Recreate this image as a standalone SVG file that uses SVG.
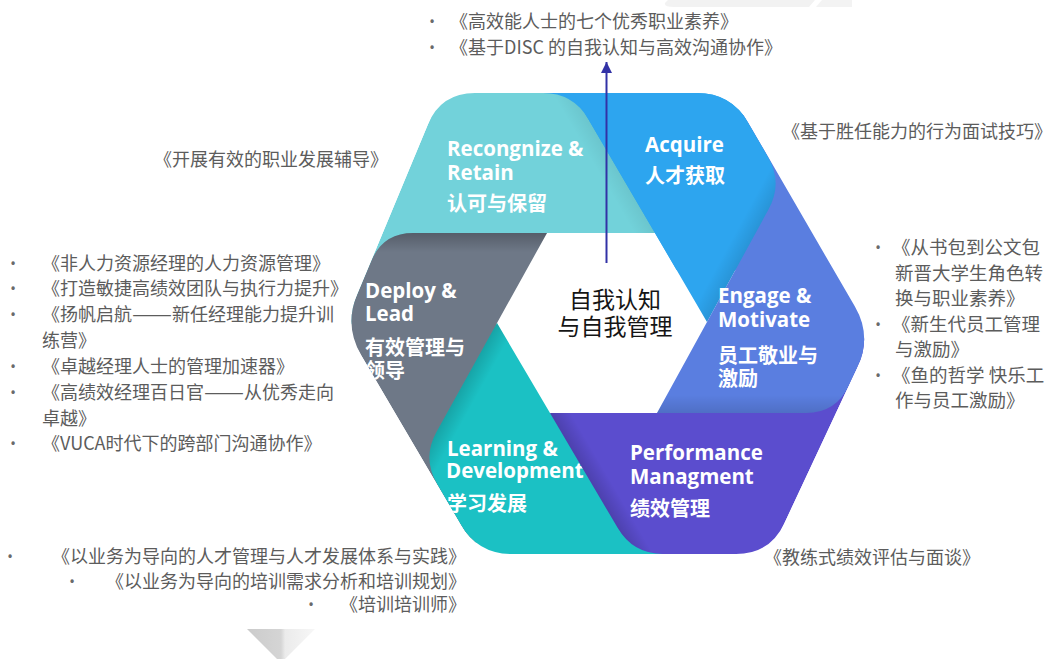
<svg xmlns="http://www.w3.org/2000/svg" xmlns:xlink="http://www.w3.org/1999/xlink" width="1051" height="659" viewBox="0 0 1051 659">
  <defs>
    <style>
      .lbl { font-family: "Open Sans", "Noto Sans CJK SC", sans-serif; font-weight: 700; font-size: 20.5px; fill: #ffffff; }
      .zh { font-family: "Noto Sans CJK SC", sans-serif; font-size: 20px; }
      .core { font-family: "Noto Sans CJK SC", sans-serif; font-size: 23px; fill: #151515; text-anchor: middle; }
      .note { font-family: "Noto Sans CJK SC", "Noto Sans", sans-serif; font-size: 18px; fill: #5c5c5c; }
      .note-l { font-size: 18.5px; }
      .dot { font-family: "Noto Sans", sans-serif; font-size: 15px; fill: #6a6a6a; text-anchor: middle; }
      .f-rec { fill: #72D2DA; }
      .f-acq { fill: #2DA5EF; }
      .f-eng { fill: #5A7EE0; }
      .f-per { fill: #5B4DCE; }
      .f-lrn { fill: #1BC1C4; }
      .f-dep { fill: #6E7887; }
      .link { stroke: #3232A6; stroke-width: 2; fill: none; }
    </style>

    <!-- rounded outer hexagon that trims the whole ring -->
    <clipPath id="hex">
      <path d="M475 93 L697 93 Q731 93 748.1 122.4 L854.9 306.6 Q872 336 857.6 366.8 L784.4 523.2 Q770 554 736 554 L512 554 Q478 554 460.8 524.7 L361.2 355.3 Q344 326 357.1 294.6 L427.9 124.4 Q441 93 475 93 Z"/>
    </clipPath>
    <!-- upper part of the Acquire band, laid back over Engage -->
    <clipPath id="acq-top">
      <rect x="500" y="0" width="400" height="270"/>
    </clipPath>

    <!-- band outlines: each band runs on under its neighbour, head corner rounded -->
    <path id="p-rec" d="M441 93 L543 93 Q573 93 588.2 118.9 L655 233 L547 233 L480 290 L344 326 Z"/>
    <path id="p-acq-full" d="M500 93 L731 93 L768 157 Q783 183 768.6 209.3 L707 322 L655 233 L600 200 Z"/>
    <path id="p-acq" d="M573 93 L731 93 L768 157 Q783 183 768.6 209.3 L707 322 Z"/>
    <path id="p-eng" d="M745 95 L872 336 L848.7 385.8 Q836 413 806 413 L657 413 L707 322 L735.4 270 L725 240 Z"/>
    <path id="p-per" d="M550 413 L657 413 L760 370 L872 336 L770 554 L663 554 Q633 554 617.8 528.1 Z"/>
    <path id="p-lrn" d="M550 413 L620 470 L720 554 L478 554 L437.1 483.9 Q422 458 436.6 431.8 L497 323 Z"/>
    <path id="p-dep" d="M547 233 L497 323 L460 420 L478 554 L344 326 L371.4 260.7 Q383 233 413 233 Z"/>

    <!-- soft shading along the leading edge of each band -->
    <linearGradient id="g-rec" gradientUnits="userSpaceOnUse" x1="655" y1="233" x2="639.5" y2="242.1">
      <stop offset="0" stop-color="#000" stop-opacity="0.06"/><stop offset="1" stop-color="#000" stop-opacity="0"/>
    </linearGradient>
    <linearGradient id="g-acq" gradientUnits="userSpaceOnUse" x1="707" y1="322" x2="691.2" y2="313.4">
      <stop offset="0" stop-color="#000" stop-opacity="0.10"/><stop offset="1" stop-color="#000" stop-opacity="0"/>
    </linearGradient>
    <linearGradient id="g-eng" gradientUnits="userSpaceOnUse" x1="750" y1="413" x2="750" y2="395">
      <stop offset="0" stop-color="#000" stop-opacity="0.12"/><stop offset="1" stop-color="#000" stop-opacity="0"/>
    </linearGradient>
    <linearGradient id="g-per" gradientUnits="userSpaceOnUse" x1="550" y1="413" x2="565.5" y2="403.9">
      <stop offset="0" stop-color="#000" stop-opacity="0.16"/><stop offset="1" stop-color="#000" stop-opacity="0"/>
    </linearGradient>
    <linearGradient id="g-lrn" gradientUnits="userSpaceOnUse" x1="497" y1="323" x2="512.7" y2="331.7">
      <stop offset="0" stop-color="#000" stop-opacity="0.15"/><stop offset="1" stop-color="#000" stop-opacity="0"/>
    </linearGradient>
    <linearGradient id="g-dep" gradientUnits="userSpaceOnUse" x1="460" y1="233" x2="460" y2="252">
      <stop offset="0" stop-color="#000" stop-opacity="0.22"/><stop offset="1" stop-color="#000" stop-opacity="0"/>
    </linearGradient>
    <linearGradient id="g-tri" x1="0" y1="0" x2="1" y2="0">
      <stop offset="0" stop-color="#cbcbcb"/><stop offset="0.5" stop-color="#d5d5d5"/>
      <stop offset="0.56" stop-color="#ebebeb"/><stop offset="1" stop-color="#f7f7f7"/>
    </linearGradient>

    <marker id="arrow" markerUnits="userSpaceOnUse" markerWidth="12" markerHeight="12" refX="11" refY="6" orient="auto">
      <path d="M0 0.5 L11 6 L0 11.5 Z" fill="#3232A6"/>
    </marker>
  </defs>

  <rect width="1051" height="659" fill="#ffffff"/>

  <!-- faint page decorations -->
  <g id="decor">
    <path d="M668 0 L815 0 L809 7 L674 7 Q664 7 665 3 Z" fill="#f2f2f2"/>
    <path d="M822 0 L852 0 L852 7 L816 7 Z" fill="#f3f3f3"/>
    <polygon points="247,629 315,629 281,663" fill="url(#g-tri)"/>
  </g>

  <!-- the six-band ring -->
  <g id="ring" clip-path="url(#hex)">
    <g id="acquire-under">
      <use href="#p-acq-full" class="f-acq"/>
      <use href="#p-acq-full" fill="url(#g-acq)"/>
    </g>

    <g id="node-recognize">
      <use href="#p-rec" class="f-rec"/>
      <use href="#p-rec" fill="url(#g-rec)"/>
      <text class="lbl" x="447" y="156">Recongnize &amp;<tspan x="447" dy="24">Retain</tspan><tspan class="zh" x="447" dy="31">认可与保留</tspan></text>
    </g>

    <g id="node-deploy">
      <use href="#p-dep" class="f-dep"/>
      <use href="#p-dep" fill="url(#g-dep)"/>
      <text class="lbl" x="365" y="298">Deploy &amp;<tspan x="365" dy="23">Lead</tspan><tspan class="zh" x="365" dy="34">有效管理与</tspan><tspan class="zh" x="365" dy="23">领导</tspan></text>
    </g>

    <g id="node-learning">
      <use href="#p-lrn" class="f-lrn"/>
      <use href="#p-lrn" fill="url(#g-lrn)"/>
      <text class="lbl" x="447" y="456">Learning &amp;<tspan x="446" dy="22">Development</tspan><tspan class="zh" x="447" dy="33">学习发展</tspan></text>
    </g>

    <g id="node-performance">
      <use href="#p-per" class="f-per"/>
      <use href="#p-per" fill="url(#g-per)"/>
      <text class="lbl" x="630" y="460">Performance<tspan x="630" dy="24">Managment</tspan><tspan class="zh" x="630" dy="32">绩效管理</tspan></text>
    </g>

    <g id="node-engage">
      <use href="#p-eng" class="f-eng"/>
      <use href="#p-eng" fill="url(#g-eng)"/>
      <text class="lbl" x="718" y="303">Engage &amp;<tspan x="718" dy="24">Motivate</tspan><tspan class="zh" x="718" dy="36">员工敬业与</tspan><tspan class="zh" x="718" dy="23">激励</tspan></text>
    </g>

    <g id="node-acquire">
      <g clip-path="url(#acq-top)">
        <use href="#p-acq" class="f-acq"/>
        <use href="#p-acq" fill="url(#g-acq)"/>
      </g>
      <text class="lbl" x="645" y="152">Acquire<tspan class="zh" x="645" dy="31">人才获取</tspan></text>
    </g>
  </g>

  <!-- centre of the ring -->
  <g id="node-self">
    <text class="core" x="615" y="308">自我认知<tspan x="615" dy="27">与自我管理</tspan></text>
  </g>

  <g id="connectors">
    <line class="link" x1="606.5" y1="263" x2="606.5" y2="62" marker-end="url(#arrow)"/>
  </g>

  <!-- course lists around the ring -->
  <g id="notes-top">
    <text class="dot" x="432" y="27">•</text>
    <text class="dot" x="432" y="53">•</text>
    <text class="note" x="450" y="28">《高效能人士的七个优秀职业素养》<tspan x="450" dy="26">《基于DISC 的自我认知与高效沟通协作》</tspan></text>
  </g>

  <g id="notes-recognize">
    <text class="note" x="154" y="166">《开展有效的职业发展辅导》</text>
  </g>

  <g id="notes-acquire">
    <text class="note" x="782" y="138">《基于胜任能力的行为面试技巧》</text>
  </g>

  <g id="notes-deploy">
    <text class="dot" x="13" y="269">•</text>
    <text class="dot" x="13" y="294">•</text>
    <text class="dot" x="13" y="320">•</text>
    <text class="dot" x="13" y="372">•</text>
    <text class="dot" x="13" y="398">•</text>
    <text class="dot" x="13" y="449">•</text>
    <text class="note" x="42" y="270">《非人力资源经理的人力资源管理》<tspan x="42" dy="25">《打造敏捷高绩效团队与执行力提升》</tspan><tspan x="42" dy="26">《扬帆启航<tspan textLength="40" lengthAdjust="spacingAndGlyphs">——</tspan>新任经理能力提升训</tspan><tspan x="42" dy="25.5">练营》</tspan><tspan x="42" dy="26.5">《卓越经理人士的管理加速器》</tspan><tspan x="42" dy="26">《高绩效经理百日官<tspan textLength="40" lengthAdjust="spacingAndGlyphs">——</tspan>从优秀走向</tspan><tspan x="42" dy="25.5">卓越》</tspan><tspan x="42" dy="25.5">《VUCA时代下的跨部门沟通协作》</tspan></text>
  </g>

  <g id="notes-engage">
    <text class="dot" x="878" y="253">•</text>
    <text class="dot" x="878" y="329.5">•</text>
    <text class="dot" x="878" y="380.5">•</text>
    <text class="note note-l" x="892" y="254">《从书包到公文包<tspan x="895" dy="25.5">新晋大学生角色转</tspan><tspan x="895" dy="25.5">换与职业素养》</tspan><tspan x="892" dy="25.5">《新生代员工管理</tspan><tspan x="895" dy="25.5">与激励》</tspan><tspan x="892" dy="25.5">《鱼的哲学 快乐工</tspan><tspan x="895" dy="25.5">作与员工激励》</tspan></text>
  </g>

  <g id="notes-performance">
    <text class="note" x="764" y="564">《教练式绩效评估与面谈》</text>
  </g>

  <g id="notes-learning">
    <text class="dot" x="10" y="562">•</text>
    <text class="dot" x="72" y="587">•</text>
    <text class="dot" x="311" y="610">•</text>
    <text class="note" x="466" y="563" text-anchor="end">《以业务为导向的人才管理与人才发展体系与实践》<tspan x="466" dy="25">《以业务为导向的培训需求分析和培训规划》</tspan><tspan x="466" dy="23">《培训培训师》</tspan></text>
  </g>
</svg>
